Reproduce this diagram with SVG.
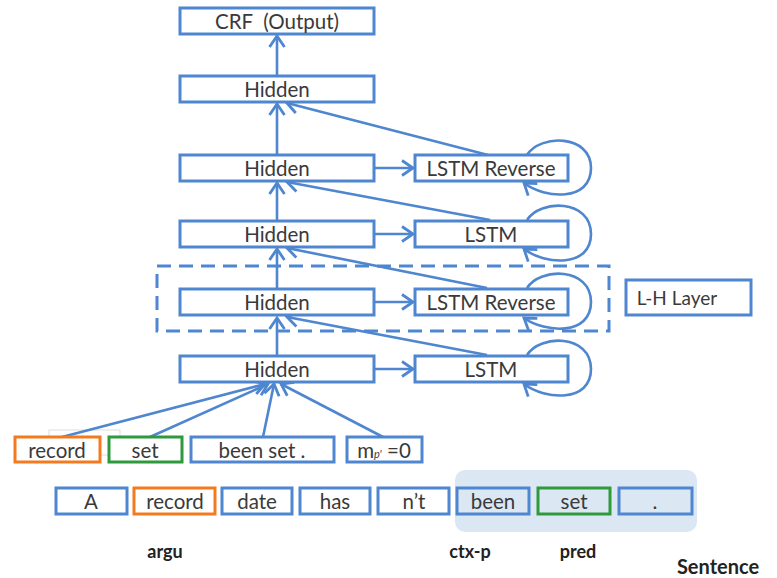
<svg xmlns="http://www.w3.org/2000/svg" width="777" height="578" viewBox="0 0 777 578">
<defs>
<style>
.b{fill:#fff;stroke:#4f86d0;stroke-width:3}
.o{fill:#fff;stroke:#f47a20;stroke-width:3}
.g{fill:#fff;stroke:#2f9a3c;stroke-width:3}
.bl{fill:#dce7f4;stroke:#4f86d0;stroke-width:3}
.gl{fill:#dce7f4;stroke:#2f9a3c;stroke-width:3}
.t{font-family:Lato,"Open Sans",sans-serif;font-size:20.5px;fill:#3a3a3a;text-anchor:middle;dominant-baseline:central}
.l{font-family:Lato,"Open Sans",sans-serif;font-size:18px;fill:#222;font-weight:bold;text-anchor:middle}
.c{fill:none;stroke:#4f86d0;stroke-width:2.6;marker-end:url(#a)}
</style>
<marker id="a" markerUnits="userSpaceOnUse" markerWidth="20" markerHeight="20" viewBox="-12 -10 14 20" refX="0" refY="0" orient="auto" overflow="visible">
<path d="M-11,-7.5 L0,0 L-11,7.5" fill="none" stroke="#4f86d0" stroke-width="2.8"/>
</marker>
</defs>
<rect x="455" y="470" width="242" height="62" rx="10" fill="#dce7f4"/>
<rect x="49" y="430" width="71" height="25" fill="none" stroke="#ddd" stroke-width="1"/>
<g id="connectors">
<line class="c" x1="277" y1="76" x2="277" y2="36"/>
<line class="c" x1="277" y1="155" x2="277" y2="104"/>
<line class="c" x1="277" y1="220" x2="277" y2="183"/>
<line class="c" x1="277" y1="288" x2="277" y2="249"/>
<line class="c" x1="277" y1="355" x2="277" y2="318"/>
<line class="c" x1="374" y1="168" x2="413" y2="168"/>
<line class="c" x1="374" y1="234" x2="413" y2="234"/>
<line class="c" x1="374" y1="302" x2="413" y2="302"/>
<line class="c" x1="374" y1="369" x2="413" y2="369"/>
<line class="c" x1="488" y1="155" x2="287" y2="103"/>
<line class="c" x1="490" y1="220" x2="287" y2="182"/>
<line class="c" x1="487" y1="288" x2="287" y2="248"/>
<line class="c" x1="487" y1="355" x2="287" y2="317"/>
<path class="c" d="M527,155 C540,134 591,134 591,168 C591,202 545,199 524,183"/>
<path class="c" d="M527,220 C540,199 591,199 591,234 C591,268 545,265 524,249"/>
<path class="c" d="M527,288 C540,267 591,267 591,302 C591,336 545,333 524,318"/>
<path class="c" d="M527,355 C540,334 591,334 591,369 C591,403 545,400 524,384"/>
<line class="c" x1="62" y1="437" x2="265" y2="384"/>
<line class="c" x1="150" y1="437" x2="268" y2="384"/>
<line class="c" x1="263" y1="437" x2="274" y2="384"/>
<line class="c" x1="383" y1="437" x2="281" y2="384"/>
</g>
<rect x="157" y="266" width="452" height="65" fill="none" stroke="#4f86d0" stroke-width="3" stroke-dasharray="14,8"/>
<g id="crf"><rect class="b" x="180" y="8" width="194" height="26"/><text class="t" x="277" y="21">CRF&#160; (Output)</text></g>
<g id="hidden1"><rect class="b" x="180" y="76" width="194" height="26"/><text class="t" x="277" y="89">Hidden</text></g>
<g id="hidden2"><rect class="b" x="180" y="155" width="194" height="26"/><text class="t" x="277" y="168">Hidden</text></g>
<g id="lstmrev2"><rect class="b" x="415" y="155" width="153" height="26"/><text class="t" x="491" y="168">LSTM Reverse</text></g>
<g id="hidden3"><rect class="b" x="180" y="221" width="194" height="26"/><text class="t" x="277" y="234">Hidden</text></g>
<g id="lstm3"><rect class="b" x="415" y="221" width="153" height="26"/><text class="t" x="491" y="234">LSTM</text></g>
<g id="hidden4"><rect class="b" x="180" y="289" width="194" height="26"/><text class="t" x="277" y="302">Hidden</text></g>
<g id="lstmrev4"><rect class="b" x="415" y="289" width="153" height="26"/><text class="t" x="491" y="302">LSTM Reverse</text></g>
<g id="lhlayer"><rect class="b" x="626" y="280" width="125" height="35"/><text class="t" x="677" y="297" style="font-size:19px">L-H Layer</text></g>
<g id="hidden5"><rect class="b" x="180" y="356" width="194" height="26"/><text class="t" x="277" y="369">Hidden</text></g>
<g id="lstm5"><rect class="b" x="415" y="356" width="153" height="26"/><text class="t" x="491" y="369">LSTM</text></g>
<g id="in-record"><rect class="o" x="15" y="437" width="85" height="25"/><text class="t" x="57" y="450">record</text></g>
<g id="in-set"><rect class="g" x="109" y="437" width="73" height="25"/><text class="t" x="145" y="450">set</text></g>
<g id="in-beenset"><rect class="b" x="191" y="437" width="143" height="25"/><text class="t" x="262" y="450">been set .</text></g>
<g id="in-m"><rect class="b" x="347" y="437" width="75" height="25"/><text class="t" x="384" y="450">m<tspan font-size="11" font-style="italic" dy="3">p'</tspan><tspan dy="-3"> =0</tspan></text></g>
<g id="w-A"><rect class="b" x="56" y="488" width="71" height="26"/><text class="t" x="91" y="501">A</text></g>
<g id="w-record"><rect class="o" x="134" y="488" width="81" height="26"/><text class="t" x="175" y="501">record</text></g>
<g id="w-date"><rect class="b" x="222" y="488" width="70" height="26"/><text class="t" x="257" y="501">date</text></g>
<g id="w-has"><rect class="b" x="300" y="488" width="70" height="26"/><text class="t" x="335" y="501">has</text></g>
<g id="w-nt"><rect class="b" x="378" y="488" width="71" height="26"/><text class="t" x="414" y="501">n’t</text></g>
<g id="w-been"><rect class="bl" x="457" y="488" width="72" height="26"/><text class="t" x="493" y="501">been</text></g>
<g id="w-set"><rect class="gl" x="538" y="488" width="72" height="26"/><text class="t" x="574" y="501">set</text></g>
<g id="w-dot"><rect class="bl" x="619" y="488" width="73" height="26"/><text class="t" x="655" y="501">.</text></g>
<text class="l" x="165" y="558">argu</text>
<text class="l" x="470" y="558">ctx-p</text>
<text class="l" x="578" y="558">pred</text>
<text class="l" x="718" y="574" style="font-size:20px">Sentence</text>
</svg>
